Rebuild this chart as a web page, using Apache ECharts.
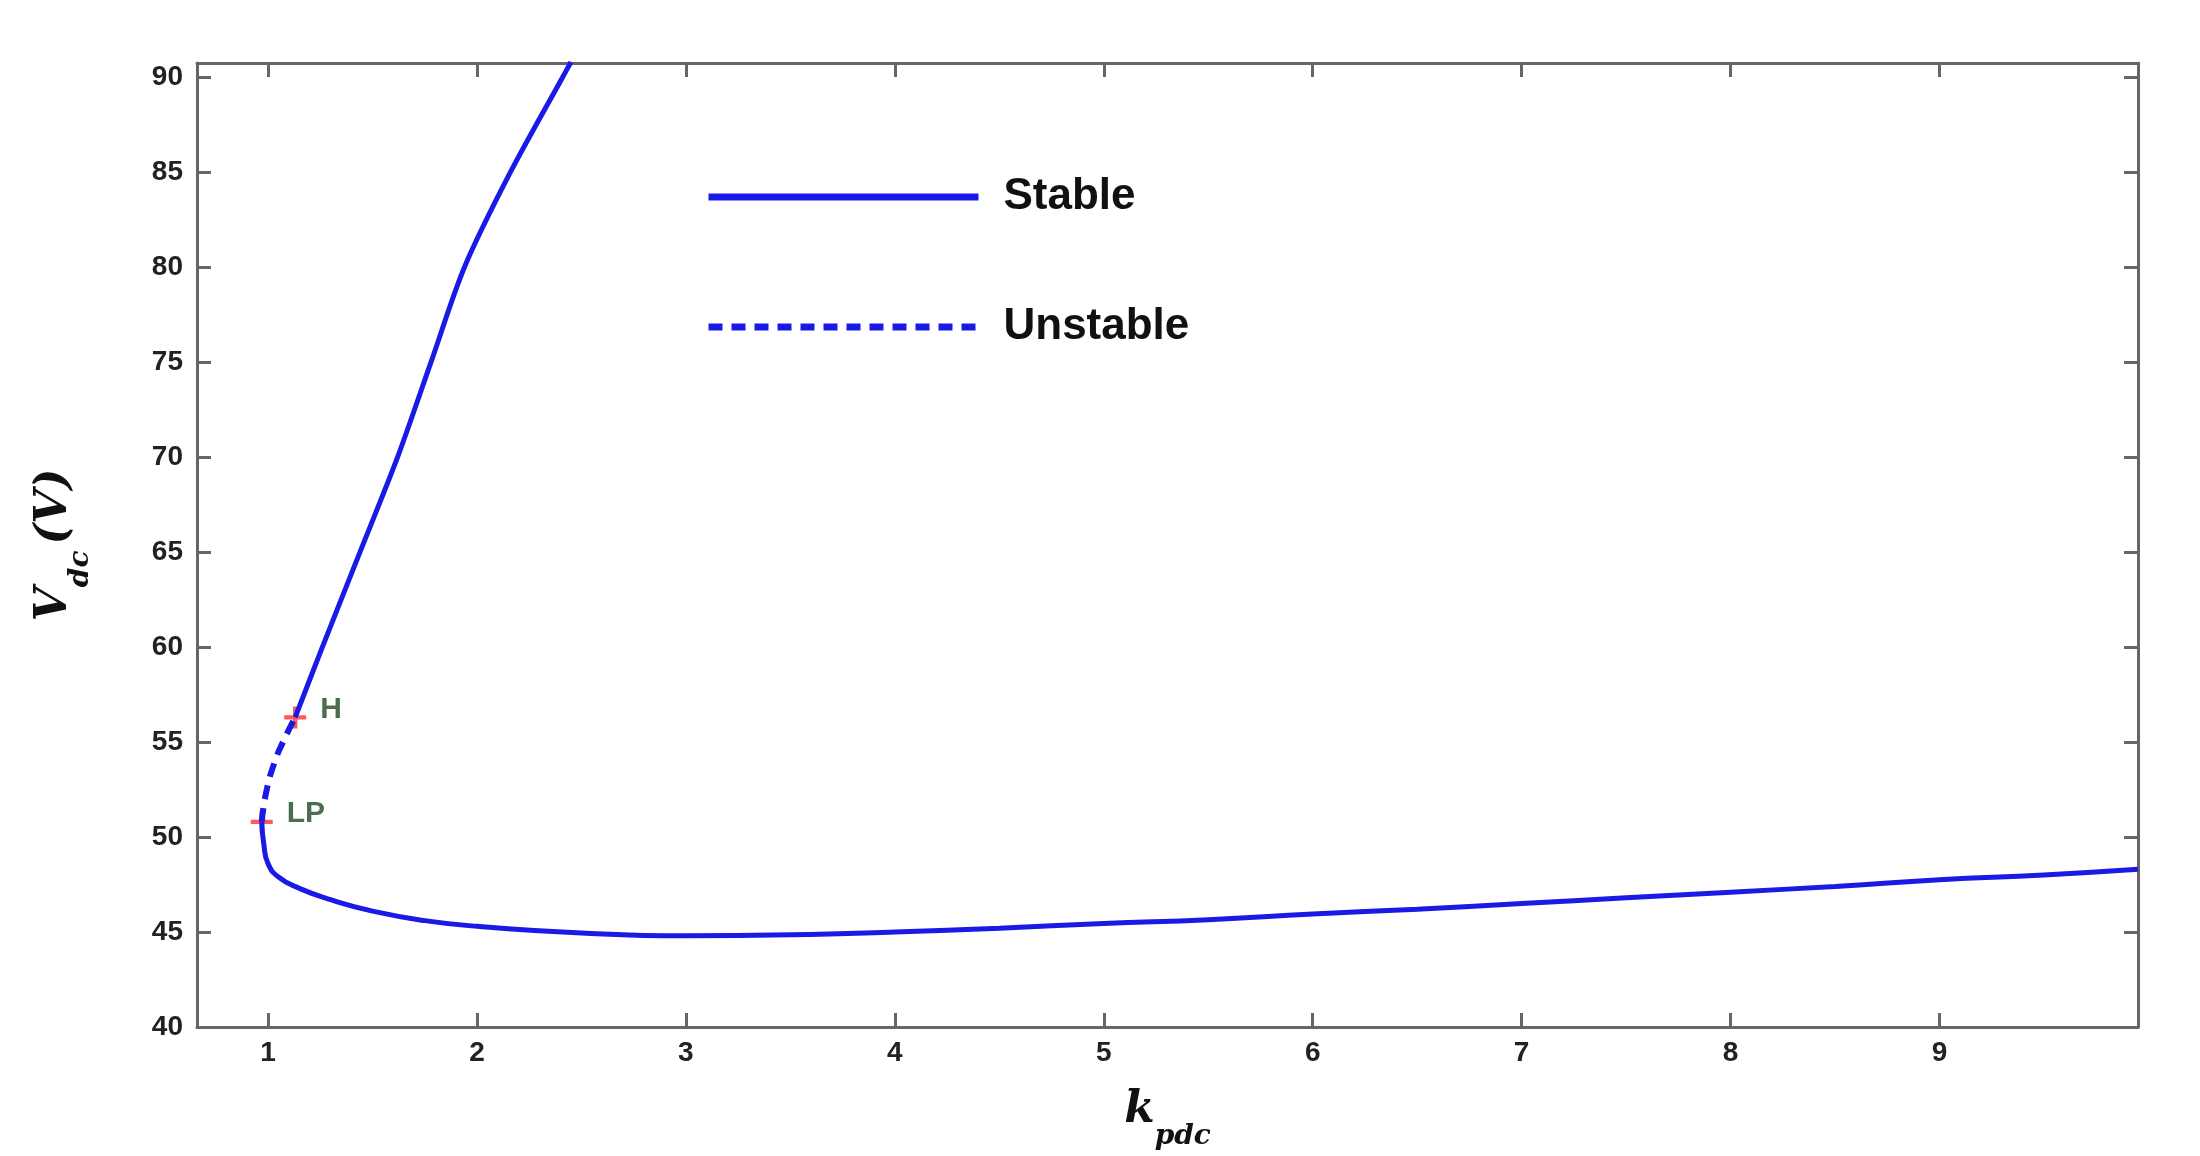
<!DOCTYPE html>
<html>
<head>
<meta charset="utf-8">
<title>bifurcation</title>
<script src="https://cdn.jsdelivr.net/npm/echarts@6/dist/echarts.min.js"></script>
</head>
<body style="margin:0;background:#fff">
<div id="main" style="width:2200px;height:1156px;"></div>
<script>
var xTicks = [1, 2, 3, 4, 5, 6, 7, 8, 9];
var upperStable = [[1.13,56.3],[1.26,60],[1.44,65],[1.62,70],[1.78,75],[1.94,80],[2.16,85],[2.41,90],[2.45,90.8]];
var unstable = [[0.97,50.8],[0.99,52.3],[1.03,53.9],[1.08,55.2],[1.13,56.3]];
var lowerStable = [[0.97,50.8],[0.98,49.6],[1.0,48.6],[1.05,47.9],[1.15,47.3],[1.3,46.7],[1.5,46.1],[1.75,45.6],[2.0,45.3],[2.5,44.95],[3.0,44.8],[3.5,44.85],[4.0,45.0],[4.5,45.2],[5.0,45.45],[5.5,45.65],[6.0,45.95],[6.5,46.2],[7.0,46.5],[7.5,46.8],[8.0,47.1],[8.5,47.4],[9.0,47.75],[9.5,48.0],[9.95,48.3]];
var points = [[1.13,56.3,'H'],[0.97,50.8,'LP']];

var axisColor = '#666';
var lineColor = '#1a1ae6';
var chart = echarts.init(document.getElementById('main'));
chart.setOption({
  animation: false,
  grid: {left: 197, right: 62, top: 63, bottom: 122},
  legend: {
    orient: 'vertical', left: 700, top: 170, itemGap: 86,
    itemWidth: 270, itemHeight: 20,
    data: ['Stable', 'Unstable'],
    itemStyle: {opacity: 0},
    lineStyle: {width: 7},
    textStyle: {fontSize: 44, fontWeight: 'bold', color: '#111', fontFamily: 'Liberation Sans', padding: [0,0,0,20]}
  },
  xAxis: [{
    type: 'value', min: 0.66, max: 9.95,
    name: '{k|k}{s|pdc}', nameLocation: 'middle', nameGap: 62,
    nameTextStyle: {rich: {k: {fontSize: 44, fontStyle: 'italic', fontWeight: 'bold', fontFamily: 'DejaVu Serif', color: '#111'},
                           s: {fontSize: 28, fontStyle: 'italic', fontWeight: 'bold', fontFamily: 'DejaVu Serif', color: '#111', verticalAlign: 'bottom', padding: [0,0,-18,0]}}},
    axisLine: {lineStyle: {color: axisColor, width: 3}},
    axisTick: {inside: true, length: 14, customValues: xTicks, lineStyle: {color: axisColor, width: 3}},
    axisLabel: {customValues: xTicks, fontSize: 28, fontWeight: 'bold', color: '#222', fontFamily: 'Liberation Sans', margin: 12},
    splitLine: {show: false}
  }, {
    type: 'value', min: 0.66, max: 9.95, position: 'top',
    axisLine: {show: true, lineStyle: {color: axisColor, width: 3}},
    axisTick: {inside: true, length: 14, customValues: xTicks, lineStyle: {color: axisColor, width: 3}},
    axisLabel: {show: false}, splitLine: {show: false}
  }],
  yAxis: [{
    type: 'value', min: 40, max: 90.75, interval: 5,
    name: '{v|V}{s|dc}{v|(V)}', nameLocation: 'middle', nameGap: 120, nameRotate: 90,
    nameTextStyle: {rich: {v: {fontSize: 44, fontStyle: 'italic', fontWeight: 'bold', fontFamily: 'DejaVu Serif', color: '#111'},
                           s: {fontSize: 28, fontStyle: 'italic', fontWeight: 'bold', fontFamily: 'DejaVu Serif', color: '#111', verticalAlign: 'bottom', padding: [0,6,-18,0]}}},
    axisLine: {show: true, lineStyle: {color: axisColor, width: 3}},
    axisTick: {inside: true, length: 14, lineStyle: {color: axisColor, width: 3}},
    axisLabel: {fontSize: 28, fontWeight: 'bold', color: '#222', fontFamily: 'Liberation Sans', margin: 14,
      formatter: function (v) { return v % 5 === 0 ? v : ''; }},
    splitLine: {show: false}
  }, {
    type: 'value', min: 40, max: 90.75, interval: 5, position: 'right',
    axisLine: {show: true, lineStyle: {color: axisColor, width: 3}},
    axisTick: {inside: true, length: 14, lineStyle: {color: axisColor, width: 3}},
    axisLabel: {show: false}, splitLine: {show: false}
  }],
  series: [
    {name: 'Stable', type: 'line', data: upperStable, smooth: 0.3, showSymbol: false, symbol: 'none',
     lineStyle: {color: lineColor, width: 5}, itemStyle: {color: lineColor}},
    {name: 'Stable', type: 'line', data: lowerStable, smooth: true, showSymbol: false, symbol: 'none',
     lineStyle: {color: lineColor, width: 5}, itemStyle: {color: lineColor}},
    {name: 'Unstable', type: 'line', data: unstable, smooth: true, showSymbol: false, symbol: 'none',
     lineStyle: {color: lineColor, width: 6, type: [14, 9]}, itemStyle: {color: lineColor}},
    {name: 'points', type: 'scatter', data: points,
     symbol: 'path://M4,0H6V4H10V6H6V10H4V6H0V4H4Z', symbolSize: 22,
     itemStyle: {color: '#ff3030'},
     label: {show: true, position: 'right', distance: 14, formatter: function (p) { return p.data[2]; },
       fontSize: 30, fontWeight: 'bold', fontFamily: 'Liberation Sans', color: '#1f4a1f', offset: [0, -8]}}
  ]
});
</script>
</body>
</html>
